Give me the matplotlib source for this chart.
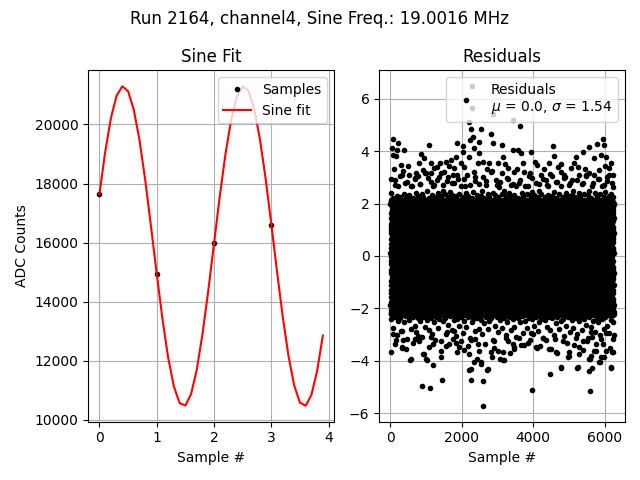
import matplotlib
matplotlib.use("Agg")
import matplotlib.pyplot as plt
import numpy as np

run_number = 2164
channel = 4
sine_freq = 19.0016

# raw samples (ADC counts)
sample_x = [0, 1, 2, 3]
sample_y = [17660, 14930, 16000, 16610]

# fitted sine, evaluated every 0.1 sample
fit_x = [i / 10 for i in range(40)]
fit_y = [17639, 19068, 20216, 20978, 21292, 21125, 20494, 19457, 18105, 16549,
         14939, 13415, 12099, 11121, 10564, 10482, 10873, 11705, 12920, 14375,
         15971, 17560, 19001, 20165, 20951, 21287, 21145, 20538, 19519, 18181,
         16631, 15020, 13489, 12160, 11162, 10581, 10474, 10840, 11653, 12852]

# residuals: dense band, one value per sample, repeating
n_samples = 6260
core_pattern = [0.12, -1.87, 2.00, -0.64, 1.43, -2.20, 0.87, -1.12, 1.98, -0.31,
                2.12, -1.55, 0.45, -2.18, 1.21, -0.02, -0.97, 2.09, -1.41, 0.66,
                -2.16, 1.64, -0.53, 0.98, -1.76, 2.06, -0.19, 1.10, -2.05, 0.31,
                -1.29, 1.87, -0.86, 2.03, -1.98, 0.54, -0.42, 1.53, -2.24, 0.77,
                -1.65, 1.76, -0.75, 1.32, -1.07, 0.21, -2.12]

# ragged edges of the band, one value every 50 samples
edge_step = 50
edge_top = [2.42, 2.21, 2.90, 2.30, 2.68, 2.24, 3.07, 2.38, 2.27, 2.81,
            2.33, 2.65, 2.22, 2.96, 2.41, 2.28, 2.74, 2.35, 2.25, 3.15,
            2.46, 2.23, 2.83, 2.32, 2.69, 2.26, 2.39, 3.00, 2.29, 2.48,
            2.37, 2.87, 2.24, 2.43, 2.31, 2.78, 2.27, 3.10, 2.36, 2.66,
            2.25, 2.93, 2.40, 2.30, 2.72, 2.22, 2.45, 3.03, 2.34, 2.76,
            2.28, 2.49, 2.23, 2.85, 2.38, 2.26, 3.19, 2.42, 2.31, 2.70,
            2.24, 2.82, 2.35, 2.47, 2.29, 2.97, 2.39, 2.25, 2.75, 2.33,
            2.65, 2.22, 2.91, 2.41, 2.28, 2.67, 2.36, 3.05, 2.27, 2.44,
            2.32, 2.80, 2.24, 2.48, 2.38, 2.94, 2.26, 2.71, 2.34, 3.13,
            2.30, 2.43, 2.23, 2.84, 2.37, 2.66, 2.25, 2.99, 2.40, 2.29,
            2.77, 2.33, 2.46, 2.24, 2.88, 2.39, 2.27, 2.73, 2.35, 3.08,
            2.31, 2.49, 2.22, 2.79, 2.42, 2.28, 2.92, 2.36, 2.68, 2.25,
            2.44, 2.86, 2.30, 2.38, 2.26]
edge_bottom = [-2.40, -2.73, -2.32, -3.00, -2.47, -2.35, -2.86, -2.53, -2.30, -3.17,
               -2.43, -2.78, -2.34, -2.66, -2.91, -2.38, -2.49, -3.07, -2.31, -2.70,
               -2.45, -2.83, -2.36, -2.96, -2.52, -2.33, -2.75, -2.42, -3.23, -2.48,
               -2.37, -2.89, -2.65, -2.30, -2.81, -2.44, -3.04, -2.39, -2.68, -2.34,
               -2.94, -2.46, -2.72, -2.32, -3.12, -2.51, -2.40, -2.85, -2.35, -2.77,
               -2.43, -2.98, -2.54, -2.31, -2.80, -2.47, -2.38, -3.20, -2.67, -2.33,
               -2.88, -2.45, -2.74, -2.36, -3.02, -2.50, -2.32, -2.82, -2.41, -2.69,
               -3.09, -2.37, -2.53, -2.30, -2.92, -2.48, -2.76, -2.35, -2.95, -2.42,
               -2.66, -2.33, -2.87, -2.51, -2.39, -3.14, -2.45, -2.71, -2.31, -2.84,
               -2.38, -3.01, -2.54, -2.34, -2.79, -2.46, -2.40, -3.06, -2.68, -2.32,
               -2.90, -2.43, -2.75, -2.36, -2.97, -2.49, -2.35, -2.83, -2.42, -2.65,
               -3.11, -2.33, -2.70, -2.47, -2.89, -2.37, -2.52, -3.03, -2.41, -2.78,
               -2.31, -2.67, -2.93, -2.44, -2.50]

# residuals outside the band (sample #, value)
fringe_top = [
    (2273, 6.47), (2273, 5.63), (2873, 5.40), (3426, 5.19), (3633, 4.97),
    (2213, 5.10), (2260, 4.85), (2306, 4.54), (2232, 4.41), (2540, 4.85),
    (2493, 4.35), (2353, 4.10), (2493, 3.91), (2820, 4.66), (2866, 4.29),
    (65, 4.47), (224, 4.31), (48, 4.10), (187, 4.03), (373, 4.03),
    (65, 3.85), (159, 3.82), (1092, 4.22), (859, 3.88), (952, 3.72),
    (1857, 4.31), (2025, 4.18), (1700, 3.66), (1840, 3.79), (2025, 3.97),
    (2213, 3.79), (300, 3.47), (812, 3.53), (1140, 3.53), (1232, 3.35),
    (1560, 3.60), (1980, 3.53), (2446, 3.53), (2773, 3.53), (3006, 3.53),
    (532, 3.09), (719, 3.16), (905, 3.28), (1000, 3.16), (1420, 3.16),
    (1793, 3.35), (1513, 3.22), (3128, 4.22), (3426, 4.03), (3566, 4.06),
    (3661, 3.91), (3941, 3.97), (3146, 3.79), (3706, 3.53), (4098, 3.47),
    (4546, 4.18), (4594, 3.81), (4454, 3.53), (4781, 3.51), (5202, 3.79),
    (5387, 3.97), (5574, 4.16), (5780, 4.26), (5948, 4.47), (5995, 4.22),
    (5902, 3.85), (6042, 3.79), (5714, 3.72), (5247, 3.41), (3473, 3.22),
    (3754, 3.22), (4221, 3.09), (4781, 3.22), (5294, 3.09), (5574, 3.16),
    (6134, 3.35), (6227, 3.09), (6134, 3.09), (3137, 3.16), (3978, 2.97),
    (4538, 3.04),
    (20, 2.95), (140, 2.70), (260, 3.05), (410, 2.80), (600, 2.65),
    (680, 2.92), (820, 2.75), (1050, 2.98), (1180, 2.68), (1300, 2.90),
    (1480, 2.72), (1620, 3.02), (1720, 2.78), (1900, 2.95), (2100, 2.66),
    (2150, 3.10), (2380, 2.85), (2600, 3.00), (2680, 2.70), (2950, 2.88),
    (3050, 2.62), (3300, 2.93), (3380, 2.70), (3600, 2.80), (3850, 2.67),
    (4150, 2.75), (4350, 2.90), (4420, 2.65), (4650, 2.83), (4900, 3.00),
    (5000, 2.70), (5100, 2.90), (5400, 2.78), (5480, 3.05), (5650, 2.68),
    (5850, 2.92), (5980, 2.72), (6080, 3.00), (6200, 2.80), (6240, 2.62),
    (350, 3.25), (1300, 3.40), (2700, 3.30), (3300, 3.35), (4300, 3.30),
    (5050, 3.35), (5850, 3.28), (2600, 3.60), (1650, 3.45),
    (110, 3.30), (480, 3.45), (760, 3.05), (1150, 3.15), (1380, 3.55),
    (1760, 3.10), (2050, 3.40), (2330, 3.20), (2850, 3.25), (3200, 3.50),
    (3550, 3.30), (3900, 3.15), (4050, 3.60), (4700, 3.40), (4850, 3.10),
    (5150, 3.55), (5450, 3.30), (5700, 3.10), (6000, 3.45), (6180, 3.55),
]
fringe_bottom = [
    (9, -3.65), (551, -3.98), (877, -4.95), (1101, -5.05), (1456, -4.74),
    (1204, -4.14), (943, -3.73), (1036, -3.96), (2204, -4.36), (2269, -4.74),
    (2605, -4.77), (2605, -5.71), (2697, -4.36), (2530, -4.11), (2344, -4.05),
    (3184, -3.96), (2857, -3.86), (3958, -5.11), (4098, -3.52), (4462, -4.51),
    (4770, -4.26), (4490, -3.55), (4678, -3.70), (5005, -3.80), (5238, -4.26),
    (5583, -5.15), (5565, -4.40), (5639, -4.27), (5593, -3.92), (5873, -4.05),
    (6171, -4.26), (6218, -3.65), (5986, -3.86), (5751, -3.61), (5285, -3.73),
    (3465, -3.48), (569, -3.92), (317, -3.48), (1877, -3.67), (2437, -3.92),
    (328, -3.51), (160, -3.21), (345, -3.21), (84, -2.96), (905, -3.73),
    (1000, -3.92), (1185, -3.36), (1092, -3.48), (812, -3.23), (625, -3.30),
    (1420, -3.61), (1420, -3.86), (1653, -3.36), (1933, -3.48), (1980, -3.23),
    (2165, -3.42), (2213, -3.73), (2260, -4.30), (2446, -3.36), (2493, -3.61),
    (2540, -4.05), (2726, -4.30), (2820, -3.67), (2913, -3.23), (3006, -3.61),
    (3073, -3.92), (1560, -2.98), (1793, -2.86), (300, -2.86),
    (3146, -3.67), (3165, -3.96), (3445, -3.36), (3473, -3.55), (3846, -3.30),
    (4081, -3.48), (4454, -3.55), (4641, -3.67), (4826, -3.23), (5014, -3.67),
    (4966, -3.86), (4781, -4.24), (5247, -4.24), (5294, -3.48), (5387, -3.23),
    (5622, -3.80), (5574, -3.92), (5761, -3.36), (5714, -3.61), (5902, -3.86),
    (5855, -4.05), (6042, -3.61), (6227, -3.67), (6181, -4.24), (6227, -3.17),
    (6042, -2.92), (4266, -3.11), (3613, -3.11), (3240, -3.11), (3986, -2.98),
    (5202, -3.11), (5622, -2.90),
    (700, -3.15), (1250, -3.20), (1850, -3.30), (2650, -3.35), (3300, -3.25),
    (3750, -3.40), (4350, -3.20), (4950, -3.30), (5500, -3.25), (5900, -3.15),
    (2250, -3.20),
    (130, -3.35), (450, -3.55), (780, -3.05), (1150, -3.10), (1550, -3.45),
    (1750, -3.15), (2050, -3.60), (2380, -3.15), (2900, -3.50), (3350, -3.70),
    (3650, -3.40), (3900, -3.20), (4200, -3.45), (4600, -3.15), (5150, -3.40),
    (5400, -3.60), (5650, -3.10), (5950, -3.35), (6150, -3.50), (6250, -3.00),
]
res_mean = 0.0
res_std = 1.54

core_x = np.arange(n_samples)
core_y = np.resize(core_pattern, n_samples)
edge_x = np.arange(len(edge_top)) * edge_step + edge_step / 2
fringe = np.array(fringe_top + fringe_bottom)
res_x = np.concatenate([core_x, edge_x, edge_x, fringe[:, 0]])
res_y = np.concatenate([core_y, edge_top, edge_bottom, fringe[:, 1]])

fig, (ax1, ax2) = plt.subplots(1, 2, figsize=(6.4, 4.8), dpi=100)
fig.suptitle(f"Run {run_number}, channel{channel}, Sine Freq.: {sine_freq} MHz")

ax1.plot(sample_x, sample_y, "k.", label="Samples")
ax1.plot(fit_x, fit_y, "r-", label="Sine fit")
ax1.set_title("Sine Fit")
ax1.set_xlabel("Sample #")
ax1.set_ylabel("ADC Counts")
ax1.grid()
ax1.legend(loc="upper right")

ax2.plot(res_x, res_y, "k.",
         label=f"Residuals\n$\\mu$ = {res_mean}, $\\sigma$ = {res_std}")
ax2.set_title("Residuals")
ax2.set_xlabel("Sample #")
ax2.grid()
ax2.legend(loc="upper right")

plt.tight_layout()
plt.savefig("out.png")
